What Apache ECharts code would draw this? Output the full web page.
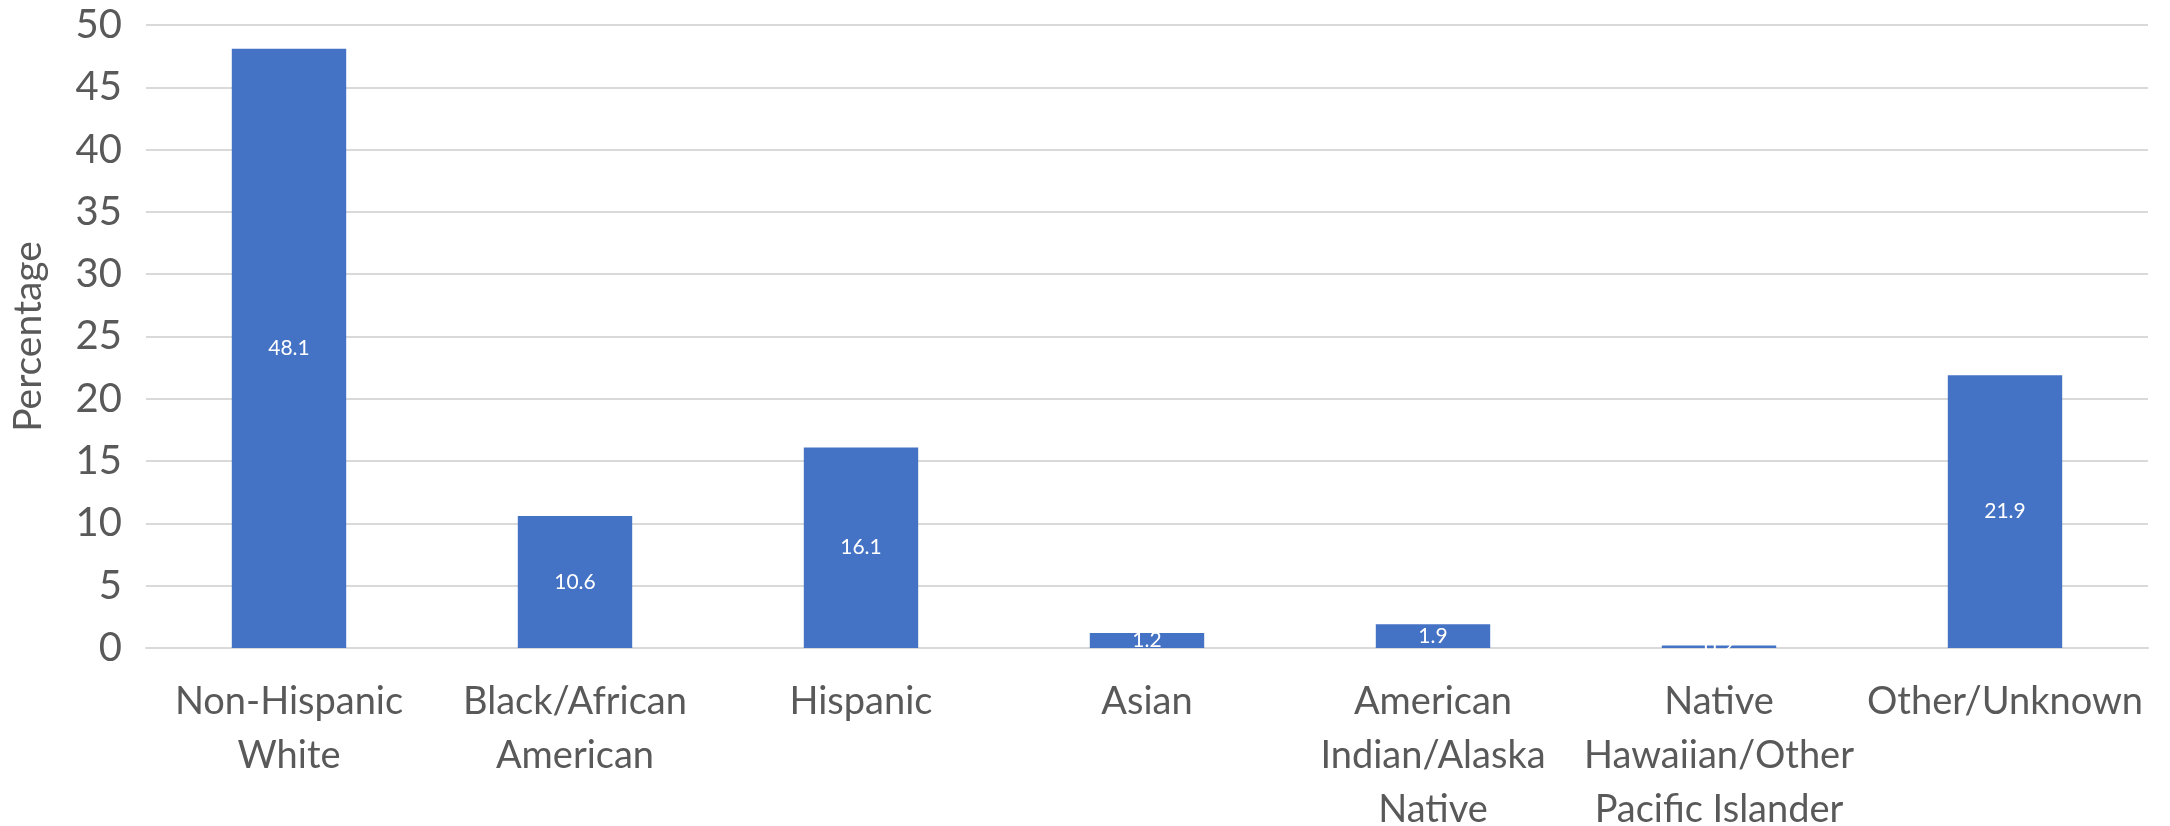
<!DOCTYPE html>
<html>
<head>
<meta charset="utf-8">
<script src="https://cdn.jsdelivr.net/npm/echarts@6/dist/echarts.min.js"></script>
<style>
html,body{margin:0;padding:0;background:#fff;}
#chart{width:2170px;height:826px;}
</style>
</head>
<body>
<div id="chart"></div>
<script>
const categories = [
  "Non-Hispanic\nWhite",
  "Black/African\nAmerican",
  "Hispanic",
  "Asian",
  "American\nIndian/Alaska\nNative",
  "Native\nHawaiian/Other\nPacific Islander",
  "Other/Unknown"
];
const percentages = [48.1, 10.6, 16.1, 1.2, 1.9, 0.2, 21.9];
const yTicks = { min: 0, max: 50, interval: 5 };
const yAxisTitle = "Percentage";

const FONT = "Lato, 'Open Sans', sans-serif";
const chart = echarts.init(document.getElementById('chart'));
chart.setOption({
  animation: false,
  backgroundColor: '#ffffff',
  grid: { left: 146, right: 22, top: 25, bottom: 178, containLabel: false, outerBoundsMode: 'none' },
  xAxis: {
    type: 'category',
    data: categories,
    axisTick: { show: false },
    axisLine: { show: true, lineStyle: { color: '#d9d9d9', width: 2 } },
    axisLabel: {
      interval: 0,
      color: '#595959',
      fontFamily: FONT,
      fontSize: 38,
      lineHeight: 54,
      margin: 27
    }
  },
  yAxis: {
    type: 'value',
    min: yTicks.min,
    max: yTicks.max,
    interval: yTicks.interval,
    name: yAxisTitle,
    nameLocation: 'middle',
    nameRotate: 90,
    nameGap: 98,
    nameTextStyle: { color: '#595959', fontFamily: FONT, fontSize: 39 },
    axisLine: { show: false },
    axisTick: { show: false },
    splitLine: { lineStyle: { color: '#d9d9d9', width: 2 } },
    axisLabel: {
      color: '#595959',
      fontFamily: FONT,
      fontSize: 40,
      margin: 24
    }
  },
  series: [{
    type: 'bar',
    data: percentages,
    barWidth: '40%',
    itemStyle: { color: '#4472c4' },
    label: {
      show: true,
      position: 'inside',
      color: '#ffffff',
      fontFamily: FONT,
      fontSize: 21
    }
  }]
});
</script>
</body>
</html>
